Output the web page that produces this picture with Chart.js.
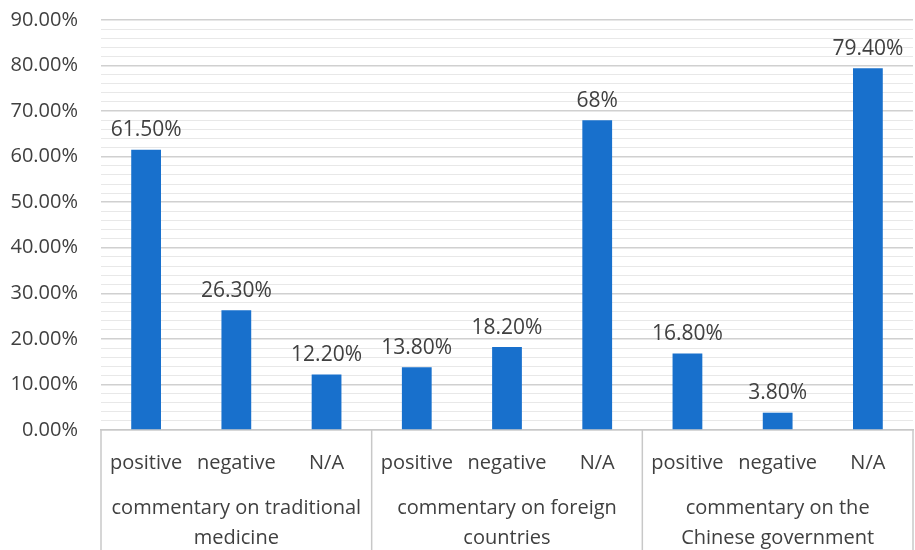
<!DOCTYPE html>
<html>
<head>
<meta charset="utf-8">
<script src="https://cdn.jsdelivr.net/npm/chart.js@4.4.0/dist/chart.umd.min.js"></script>
<style>
  body { margin: 0; background: #fff; }
  #wrap { width: 915px; height: 550px; }
</style>
</head>
<body>
<div id="wrap"><canvas id="chart" width="915" height="550"></canvas></div>
<script>
const categories = ['positive', 'negative', 'N/A', 'positive', 'negative', 'N/A', 'positive', 'negative', 'N/A'];
const values = [61.5, 26.3, 12.2, 13.8, 18.2, 68, 16.8, 3.8, 79.4];
const valueLabels = ['61.50%', '26.30%', '12.20%', '13.80%', '18.20%', '68%', '16.80%', '3.80%', '79.40%'];
const groups = [
  ['commentary on traditional', 'medicine'],
  ['commentary on foreign', 'countries'],
  ['commentary on the', 'Chinese government'],
];
const groupSize = 3;

const textColor = '#404040';
const fontFamily = '"Open Sans", "Noto Sans", sans-serif';

// value labels above bars
const barLabels = {
  id: 'barLabels',
  afterDatasetsDraw(chart) {
    const ctx = chart.ctx;
    const meta = chart.getDatasetMeta(0);
    ctx.save();
    ctx.font = '21px ' + fontFamily;
    ctx.fillStyle = textColor;
    ctx.textAlign = 'center';
    ctx.textBaseline = 'bottom';
    meta.data.forEach((bar, i) => {
      ctx.fillText(valueLabels[i], bar.x, bar.y - 9);
    });
    ctx.restore();
  },
};

// group labels and separators under the category axis
const groupAxis = {
  id: 'groupAxis',
  afterDraw(chart) {
    const ctx = chart.ctx;
    const x = chart.scales.x;
    const area = chart.chartArea;
    const bottom = chart.height;
    ctx.save();
    ctx.strokeStyle = '#c8c8c8';
    ctx.lineWidth = 1.5;
    const edges = [area.left];
    for (let g = 1; g < groups.length; g++) {
      const a = x.getPixelForValue(g * groupSize - 1);
      const b = x.getPixelForValue(g * groupSize);
      edges.push((a + b) / 2);
    }
    edges.push(area.right);
    edges.forEach((ex) => {
      ctx.beginPath();
      ctx.moveTo(ex, area.bottom);
      ctx.lineTo(ex, bottom);
      ctx.stroke();
    });
    ctx.font = '20px ' + fontFamily;
    ctx.fillStyle = textColor;
    ctx.textAlign = 'center';
    ctx.textBaseline = 'middle';
    groups.forEach((lines, g) => {
      const cx = (edges[g] + edges[g + 1]) / 2;
      lines.forEach((t, k) => {
        ctx.fillText(t, cx, area.bottom + 78 + k * 30);
      });
    });
    ctx.restore();
  },
};

new Chart(document.getElementById('chart'), {
  type: 'bar',
  data: {
    labels: categories,
    datasets: [
      {
        data: values,
        backgroundColor: 'rgb(24, 112, 204)',
        categoryPercentage: 1,
        barPercentage: 0.33,
      },
    ],
  },
  options: {
    responsive: false,
    animation: false,
    layout: { padding: { top: 20, right: 2, left: 0, bottom: 0 } },
    plugins: {
      legend: { display: false },
      tooltip: { enabled: false },
    },
    scales: {
      x: {
        grid: { display: false, drawTicks: false },
        border: { display: true, color: '#c8c8c8', width: 1.5 },
        ticks: {
          color: textColor,
          font: { family: fontFamily, size: 20 },
          padding: 21,
          maxRotation: 0,
          autoSkip: false,
        },
        afterFit(scale) { scale.height = 120; },
      },
      y: {
        min: 0,
        max: 90,
        border: { display: false },
        grid: {
          drawTicks: false,
          color: (c) => (c.tick.value % 10 === 0 ? '#d0d0d0' : '#e8e8e8'),
          lineWidth: (c) => (c.tick.value % 10 === 0 ? 1.5 : 1),
        },
        ticks: {
          stepSize: 2,
          autoSkip: false,
          color: textColor,
          font: { family: fontFamily, size: 20 },
          padding: 23,
          callback: (v) => (v % 10 === 0 ? v.toFixed(2) + '%' : ''),
        },
        afterFit(scale) {
          scale.width = 101;
          scale.paddingTop = 0;
          scale.paddingBottom = 0;
        },
      },
    },
  },
  plugins: [barLabels, groupAxis],
});
</script>
</body>
</html>
